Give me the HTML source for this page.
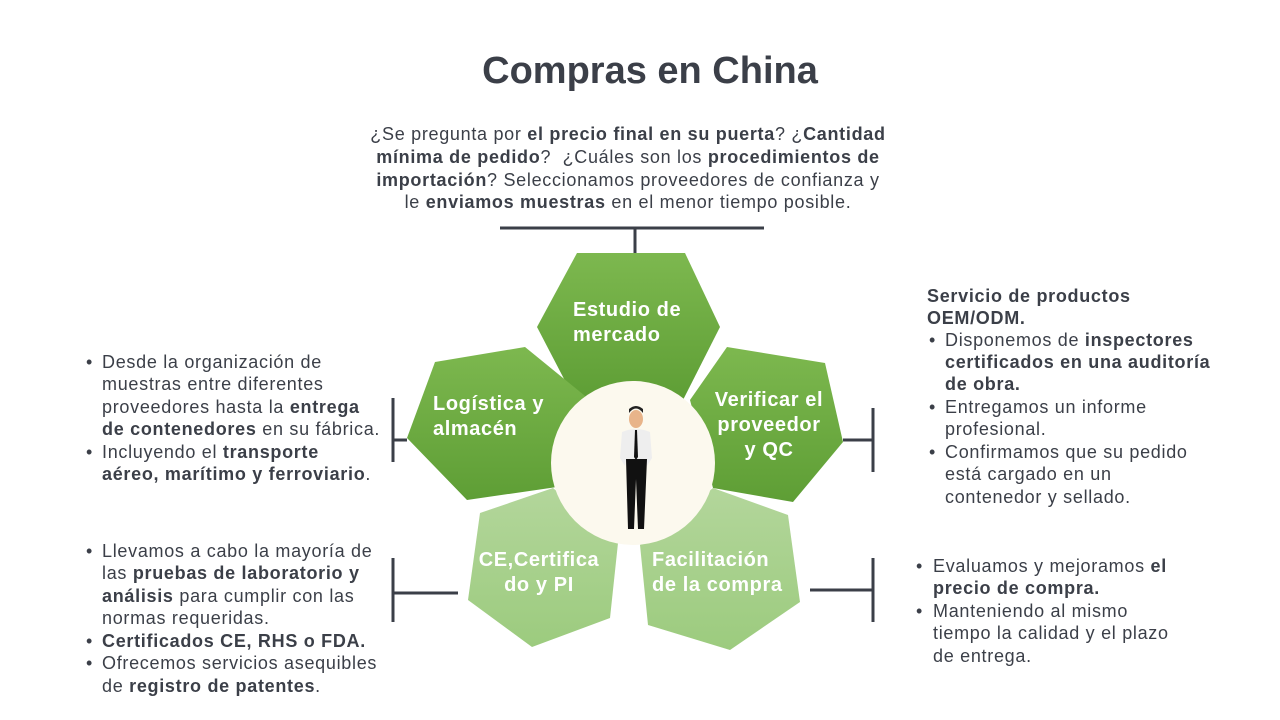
<!DOCTYPE html>
<html><head><meta charset="utf-8"><style>
body{margin:0;width:1280px;height:720px;background:#fff;position:relative;overflow:hidden;font-family:"Liberation Sans",sans-serif;color:#3b3f48}
.l{position:absolute;white-space:nowrap;font-size:18px;line-height:22px;letter-spacing:0.7px}
.c{left:0;width:1256px;text-align:center}
b{font-weight:bold}
</style></head><body>
<div style="position:absolute;left:0;width:1300px;text-align:center;top:50px;font-size:38px;font-weight:bold;color:#3b3f48">Compras en China</div>

<div class="l c" style="top:123px">¿Se pregunta por <b>el precio final en su puerta</b>? ¿<b>Cantidad</b></div>
<div class="l c" style="top:146px"><b>mínima de pedido</b>?&nbsp; ¿Cuáles son los <b>procedimientos de</b></div>
<div class="l c" style="top:169px"><b>importación</b>? Seleccionamos proveedores de confianza y</div>
<div class="l c" style="top:191px">le <b>enviamos muestras</b> en el menor tiempo posible.</div>

<svg width="1280" height="720" style="position:absolute;left:0;top:0">
<defs>
<linearGradient id="g" x1="0" y1="0" x2="0" y2="1"><stop offset="0" stop-color="#7db84f"/><stop offset="1" stop-color="#5e9e35"/></linearGradient>
<linearGradient id="g2" x1="0" y1="0" x2="0" y2="1"><stop offset="0" stop-color="#b3d69b"/><stop offset="1" stop-color="#9ccb7e"/></linearGradient>
</defs>
<g stroke="#3b3f48" stroke-width="3" fill="none">
<path d="M500 228H764M635 228V253"/>
<path d="M393 398V462M393 440H407"/>
<path d="M393 558V622M393 593H458"/>
<path d="M873 408V472M843 440H873"/>
<path d="M873 558V622M810 590H873"/>
</g>
<polygon fill="url(#g)" points="577,253 685,253 720,327 683,400 575,400 537,327"/>
<polygon fill="url(#g)" points="525,347 435,362 407,438 467,500 557,487 590,400"/>
<polygon fill="url(#g)" points="727,347 825,363 843,442 793,502 713,488 690,400"/>
<polygon fill="url(#g2)" points="553,488 480,513 468,600 532,647 610,618 618,543"/>
<polygon fill="url(#g2)" points="713,488 788,515 800,602 730,650 648,625 640,545"/>
<circle cx="633" cy="463" r="82" fill="#fcf9ee"/>
<g>
<ellipse cx="636" cy="419" rx="7" ry="9" fill="#e8b48a"/>
<path d="M629 413q7-9 14 0v-4q-7-6-14 0z" fill="#222"/>
<path d="M622 432q14-6 28 0l2 26l-5 8l-1-6h-20l-1 6l-5-8z" fill="#eee"/>
<path d="M635 430l2 0l1 27l-2 3l-2-3z" fill="#111"/>
<path d="M626 459h21l-3 70h-6l-2-50l-2 50h-6z" fill="#111"/>
</g>
<g font-family="Liberation Sans,sans-serif" font-weight="bold" font-size="20" fill="#fff" letter-spacing="0.6">
<text x="573" y="316">Estudio de</text><text x="573" y="341">mercado</text>
<text x="433" y="410">Logística y</text><text x="433" y="435">almacén</text>
<text x="769" y="406" text-anchor="middle">Verificar el</text><text x="769" y="431" text-anchor="middle">proveedor</text><text x="769" y="456" text-anchor="middle">y QC</text>
<text x="539" y="566" text-anchor="middle">CE,Certifica</text><text x="539" y="591" text-anchor="middle">do y PI</text>
<text x="652" y="566">Facilitación</text><text x="652" y="591">de la compra</text>
</g>
</svg>

<div class="l" style="left:86px;top:351px">•</div>
<div class="l" style="left:102px;top:351px">Desde la organización de</div>
<div class="l" style="left:102px;top:373px">muestras entre diferentes</div>
<div class="l" style="left:102px;top:396px">proveedores hasta la <b>entrega</b></div>
<div class="l" style="left:102px;top:418px"><b>de contenedores</b> en su fábrica.</div>
<div class="l" style="left:86px;top:441px">•</div>
<div class="l" style="left:102px;top:441px">Incluyendo el <b>transporte</b></div>
<div class="l" style="left:102px;top:463px"><b>aéreo, marítimo y ferroviario</b>.</div>

<div class="l" style="left:86px;top:540px">•</div>
<div class="l" style="left:102px;top:540px">Llevamos a cabo la mayoría de</div>
<div class="l" style="left:102px;top:562px">las <b>pruebas de laboratorio y</b></div>
<div class="l" style="left:102px;top:585px"><b>análisis</b> para cumplir con las</div>
<div class="l" style="left:102px;top:607px">normas requeridas.</div>
<div class="l" style="left:86px;top:630px">•</div>
<div class="l" style="left:102px;top:630px"><b>Certificados CE, RHS o FDA.</b></div>
<div class="l" style="left:86px;top:652px">•</div>
<div class="l" style="left:102px;top:652px">Ofrecemos servicios asequibles</div>
<div class="l" style="left:102px;top:675px">de <b>registro de patentes</b>.</div>

<div class="l" style="left:927px;top:285px"><b>Servicio de productos</b></div>
<div class="l" style="left:927px;top:307px"><b>OEM/ODM.</b></div>
<div class="l" style="left:929px;top:329px">•</div>
<div class="l" style="left:945px;top:329px">Disponemos de <b>inspectores</b></div>
<div class="l" style="left:945px;top:351px"><b>certificados en una auditoría</b></div>
<div class="l" style="left:945px;top:373px"><b>de obra.</b></div>
<div class="l" style="left:929px;top:396px">•</div>
<div class="l" style="left:945px;top:396px">Entregamos un informe</div>
<div class="l" style="left:945px;top:418px">profesional.</div>
<div class="l" style="left:929px;top:441px">•</div>
<div class="l" style="left:945px;top:441px">Confirmamos que su pedido</div>
<div class="l" style="left:945px;top:463px">está cargado en un</div>
<div class="l" style="left:945px;top:486px">contenedor y sellado.</div>

<div class="l" style="left:916px;top:555px">•</div>
<div class="l" style="left:933px;top:555px">Evaluamos y mejoramos <b>el</b></div>
<div class="l" style="left:933px;top:577px"><b>precio de compra.</b></div>
<div class="l" style="left:916px;top:600px">•</div>
<div class="l" style="left:933px;top:600px">Manteniendo al mismo</div>
<div class="l" style="left:933px;top:622px">tiempo la calidad y el plazo</div>
<div class="l" style="left:933px;top:645px">de entrega.</div>
</body></html>
